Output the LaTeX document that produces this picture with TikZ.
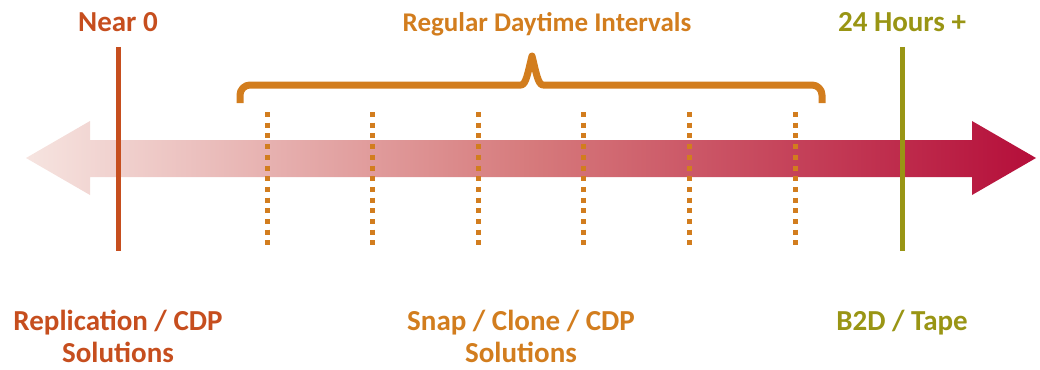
\documentclass[tikz,border=0pt]{standalone}
\usepackage{fontspec}
\setmainfont{Carlito}
\definecolor{nearc}{RGB}{198,78,30}
\definecolor{dayc}{RGB}{210,125,30}
\definecolor{olivec}{RGB}{153,149,20}
\definecolor{arrL}{RGB}{246,228,224}
\definecolor{arrM}{RGB}{214,122,124}
\definecolor{arrR}{RGB}{181,14,58}
\tikzset{
  lbl/.style={font=\fontsize{29}{32}\selectfont\bfseries, align=center, anchor=base, inner sep=0pt},
  marker/.style={line width=5pt},
  dotline/.style={draw=dayc, line width=5pt, dash pattern=on 5pt off 5.7pt},
  bracestyle/.style={draw=dayc, line width=7pt, line join=round}
}
\begin{document}
\begin{tikzpicture}[x=1pt,y=-1pt]
\useasboundingbox (0,0) rectangle (1040,369);
% timeline arrow
\shade[left color=arrL, right color=arrR, middle color=arrM]
  (26,158) -- (90,121) -- (90,140) -- (972,140) -- (972,121) -- (1036,158)
  -- (972,195) -- (972,177) -- (90,177) -- (90,195) -- cycle;
% dotted interval markers
\foreach \x in {267,372.6,478.2,583.8,689.4,795} {
  \draw[dotline] (\x,112) -- (\x,245);
}
% brace
\draw[bracestyle] (240,103) -- (240,95) .. controls (240,89.5) and (244.5,85) .. (250,85)
  -- (521,85) .. controls (526,85) and (528,72) .. (532,56)
  .. controls (536,72) and (538,85) .. (543,85)
  -- (812,85) .. controls (817.5,85) and (822,89.5) .. (822,95) -- (822,103);
% markers
\coordinate (n0t) at (118,47);
\coordinate (n0b) at (118,251);
\coordinate (h24t) at (902,47);
\coordinate (h24b) at (902,251);
\draw[marker, nearc] (n0t) -- (n0b);
\draw[marker, olivec] (h24t) -- (h24b);
% labels
\node[lbl, text=nearc] (near) at (118,32) {Near 0};
\node[lbl, text=dayc, font=\fontsize{27}{32}\selectfont\bfseries] (reg) at (547,32) {Regular Daytime Intervals};
\node[lbl, text=olivec] (h24) at (902,32) {24 Hours +};
\node[lbl, text=nearc] (rep) at (118,362) {Replication / CDP\\Solutions};
\node[lbl, text=dayc] (snap) at (521,362) {Snap / Clone / CDP\\Solutions};
\node[lbl, text=olivec] (b2d) at (902,330) {B2D / Tape};
\end{tikzpicture}
\end{document}
